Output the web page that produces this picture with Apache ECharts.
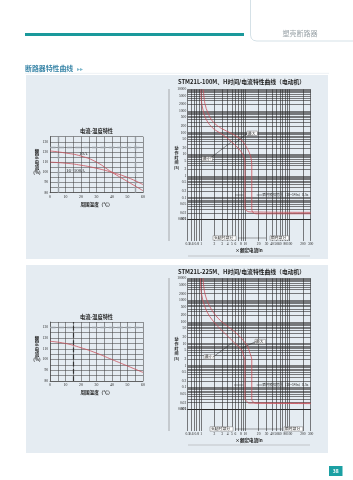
<!DOCTYPE html>
<html><head><meta charset="utf-8">
<script src="https://cdn.jsdelivr.net/npm/echarts@6/dist/echarts.min.js"></script>
<style>html,body{margin:0;padding:0;background:#fff}#c{width:353px;height:480px}</style>
</head><body><div id="c"></div>
<script>
// ---- data ----
const tempX = [0, 10, 20, 30, 40, 50, 60];
const curve10A = [121, 119, 116, 110, 100, 91, 82];
const curve16to100A = [110, 109, 107, 104, 100, 95, 88];
const curve225 = [117, 115, 111, 106, 100, 94, 88];

const tc100Min = [[1.0,10000],[1.02,3000],[1.11,1100],[1.33,383],[1.88,157],[3.17,78],[4.92,37.5],[7.6,15.5],[9.3,7.6],[9.8,3.7],[9.8,0.037],[10.6,0.025],[12.8,0.022],[300,0.021]];
const tc100Max = [[1.13,10000],[1.22,2260],[1.45,760],[1.88,310],[2.92,154],[4.92,91],[8.3,44.5],[11.1,18.4],[13.3,7.6],[14,3.2],[14,0.029],[15.2,0.02],[17.5,0.018],[300,0.018]];
const tc225Min = [[0.97,10000],[1.02,2050],[1.22,500],[1.58,174],[2.44,60],[3.79,25],[5.85,10.4],[8.3,5.1],[9.3,2.5],[9.8,1.8],[9.8,0.031],[11,0.022],[12,0.019],[300,0.019]];
const tc225Max = [[1.11,10000],[1.22,2050],[1.58,500],[2.44,146],[4.12,60],[6.95,25],[10.8,8.7],[12.8,3.6],[14,1.8],[14,0.028],[15.8,0.02],[18.2,0.019],[300,0.018]];

const leftYTicks = [80, 90, 100, 110, 120, 130];
const leftXTicks = [0, 10, 20, 30, 40, 50, 60];
const rightYTicks = [10000,5000,2000,1000,500,200,100,50,20,10,5,2,1,0.5,0.2,0.1,0.05,0.02,0.01,0.005,0.002,0.001];
const rightXTicks = [0.5,0.6,0.8,1,2,3,4,5,6,8,10,20,30,40,50,60,80,100,200,300];

// ---- helpers ----
const CJK = '"Noto Sans CJK SC", "Noto Sans", sans-serif';
const SERIF = '"Liberation Serif", "DejaVu Serif", serif';
const RED = '#c9515b';
function logGrid(min, max, nMin, nMax) {
  const out = [];
  for (let n = nMin; n <= nMax; n++) for (let k = 1; k <= 9; k++) {
    const v = Number((k * Math.pow(10, n)).toPrecision(6));
    if (v >= min * 0.999999 && v <= max * 1.000001) out.push(v);
  }
  return out;
}
const gridXVals = logGrid(0.5, 300, -1, 2);
const gridYVals = logGrid(0.001, 10000, -3, 4);
function hasTick(arr, v) { return arr.some(t => Math.abs(t - v) <= 1e-6 * Math.max(1e-9, Math.abs(t))); }

function gridSeries(idx) {
  const data = [];
  gridXVals.forEach(v => data.push({ xAxis: v, label: { show: hasTick(rightXTicks, v), formatter: String(v) } }));
  gridYVals.forEach(v => data.push({ yAxis: v, label: { show: hasTick(rightYTicks, v), formatter: String(v) } }));
  return {
    type: 'line', xAxisIndex: idx, yAxisIndex: idx, data: [], z: 1, silent: true,
    markLine: {
      silent: true, symbol: ['none', 'none'], animation: false,
      lineStyle: { color: '#2a2a2a', width: 0.6, type: 'solid' },
      label: { position: 'start', distance: 1.5, fontSize: 3.6, color: '#222', fontFamily: SERIF },
      data
    }
  };
}
function tcSeries(idx, data) {
  return { type: 'line', xAxisIndex: idx, yAxisIndex: idx, data, smooth: 0.35, showSymbol: false, z: 5,
    lineStyle: { color: RED, width: 0.8 }, animation: false, silent: true };
}
function leftX(idx) {
  return { gridIndex: idx, type: 'value', min: 0, max: 60, interval: 5,
    axisLine: { lineStyle: { color: '#444', width: 0.6 } }, axisTick: { show: false },
    splitLine: { show: true, lineStyle: { color: '#444', width: 0.55 } },
    axisLabel: { fontSize: 3.8, color: '#222', margin: 2.5, fontFamily: SERIF,
      formatter: v => hasTick(leftXTicks, v) ? String(v) : '' },
    name: '周围温度（℃）', nameLocation: 'middle', nameGap: 9,
    nameTextStyle: { fontSize: 4.6, color: '#222', fontFamily: CJK, fontWeight: 'bold' } };
}
function leftY(idx) {
  return { gridIndex: idx, type: 'value', min: 80, max: 135, interval: 5,
    axisLine: { show: true, lineStyle: { color: '#444', width: 0.6 } }, axisTick: { show: false },
    splitLine: { show: true, lineStyle: { color: '#444', width: 0.55 } },
    axisLabel: { fontSize: 3.6, color: '#222', margin: 2, fontFamily: SERIF,
      formatter: v => hasTick(leftYTicks, v) ? String(v) : '' } };
}
function rightX(idx) {
  return { gridIndex: idx, type: 'log', logBase: 10, min: 0.5, max: 300,
    axisLine: { show: false }, axisTick: { show: false }, axisLabel: { show: false }, splitLine: { show: false } };
}
function rightY(idx) {
  return { gridIndex: idx, type: 'log', logBase: 10, min: 0.001, max: 10000,
    axisLine: { show: false }, axisTick: { show: false }, axisLabel: { show: false }, splitLine: { show: false } };
}
function txt(x, y, text, size, opts) {
  return Object.assign({ type: 'text', x, y, z: 50, silent: true,
    style: Object.assign({ text, fontSize: size, fill: '#222', fontFamily: CJK, verticalAlign: 'middle' }, (opts && opts.style) || {}) },
    opts && opts.el || {});
}
function boxLabel(x, y, text) {
  return [
    { type: 'rect', z: 40, silent: true, shape: { x: x - 1, y: y - 2.2, width: text.length * 4.2 + 2, height: 4.4 },
      style: { fill: '#fff', stroke: '#555', lineWidth: 0.4 } },
    txt(x, y, text, 3.8, {})
  ];
}
function line(x1, y1, x2, y2, color, w) {
  return { type: 'line', z: 45, silent: true, shape: { x1, y1, x2, y2 }, style: { stroke: color || '#333', lineWidth: w || 0.5 } };
}

const graphics = [
  // panels
  { type: 'rect', z: -10, silent: true, shape: { x: 26, y: 75, width: 302, height: 184 }, style: { fill: '#e5ecf2' } },
  { type: 'rect', z: -10, silent: true, shape: { x: 26, y: 265, width: 302, height: 188 }, style: { fill: '#e5ecf2' } },
  // header
  { type: 'polyline', z: 5, silent: true, shape: { points: [[250.5,0],[250.5,35],[251.3,38.3],[253.5,40.3],[256.8,41],[353,41]] },
    style: { stroke: '#c3d4dc', lineWidth: 0.7, fill: null } },
  txt(300, 33.5, '塑壳断路器', 7, { style: { fill: '#9aa3a8', align: 'center' } }),
  { type: 'rect', z: 5, silent: true, shape: { x: 25, y: 33, width: 219, height: 3 }, style: { fill: '#1a999b' } },
  txt(25, 68.7, '断路器特性曲线', 6.9, { style: { fill: '#3a86a8', fontWeight: 'bold' } }),
  txt(77, 68.7, '▸▸', 5.5, { style: { fill: '#7fb8cc' } }),
  line(25, 73.3, 329, 73.3, '#e0e8ee', 0.6),
  // page number
  { type: 'rect', z: 5, silent: true, shape: { x: 329, y: 466, width: 13.5, height: 10 }, style: { fill: '#1ba0a3' } },
  txt(335.7, 471, '38', 5, { style: { fill: '#fff', align: 'center', fontWeight: 'bold' } }),

  // left chart 1
  txt(96.5, 131, '电流-温度特性', 5.2, { style: { align: 'center', fontWeight: 'bold' } }),
  txt(37, 162, '额\n定\n电\n流\n(%)', 4.4, { style: { align: 'center', lineHeight: 5.3, fontWeight: 'bold' } }),
  txt(79, 154, '10A', 5, { style: { fontFamily: SERIF } }),
  txt(66, 171, '16~100A', 5, { style: { fontFamily: SERIF } }),
  // left chart 2
  txt(96.5, 317, '电流-温度特性', 5.2, { style: { align: 'center', fontWeight: 'bold' } }),
  txt(37, 349, '额\n定\n电\n流\n(%)', 4.4, { style: { align: 'center', lineHeight: 5.3, fontWeight: 'bold' } }),

  // right chart 1
  txt(178, 81.7, 'STM21L-100M、H时间/电流特性曲线（电动机）', 5.8, { style: { fontWeight: 'bold' } }),
  txt(176.5, 158, '动\n作\n时\n间\n(S)', 4, { style: { align: 'center', lineHeight: 4.6, fontWeight: 'bold' } }),
  txt(249, 250.7, '×额定电流In', 4.6, { style: { align: 'center', fontWeight: 'bold' } }),
  line(169, 89, 169, 241, '#666', 0.5),
  line(188, 256, 310, 256, '#888', 0.4),
  line(247.3, 133.3, 235, 143.3, '#222', 0.5),
  line(210, 158.3, 231.7, 141.7, '#222', 0.5),
  ...boxLabel(248, 133.3, '最大'),
  ...boxLabel(203, 159, '最小'),
  line(235, 195, 243.5, 195, '#222', 0.5),
  line(256.7, 195, 262, 195, '#222', 0.5),
  txt(262.5, 195, '瞬时脱扣范围（10~14In）0.5s', 3.4, {}),
  ...boxLabel(214, 238, '长延时部分'),
  line(238, 238, 266, 238, '#222', 0.4),
  ...boxLabel(271, 238, '瞬时部分'),

  // right chart 2
  txt(178, 271.7, 'STM21L-225M、H时间/电流特性曲线（电动机）', 5.8, { style: { fontWeight: 'bold' } }),
  txt(176.5, 349, '动\n作\n时\n间\n(S)', 4, { style: { align: 'center', lineHeight: 4.6, fontWeight: 'bold' } }),
  txt(249, 440, '×额定电流In', 4.6, { style: { align: 'center', fontWeight: 'bold' } }),
  line(169, 278, 169, 431, '#666', 0.5),
  line(188, 445, 310, 445, '#888', 0.4),
  line(256, 341.5, 241.7, 348.3, '#222', 0.5),
  line(213, 357, 231.7, 343.3, '#222', 0.5),
  ...boxLabel(256, 341.5, '最大'),
  ...boxLabel(205, 357, '最小'),
  line(234, 385, 243.3, 385, '#222', 0.5),
  line(256.7, 385, 262, 385, '#222', 0.5),
  txt(262.5, 385, '瞬时脱扣范围（10~14In）0.5s', 3.4, {}),
  ...boxLabel(211, 429, '长延时部分'),
  line(235, 429, 282, 429, '#222', 0.4),
  ...boxLabel(285, 429, '瞬时部分')
];

const option = {
  animation: false,
  backgroundColor: '#ffffff',
  grid: [
    { left: 50, top: 136.7, width: 93, height: 56 },
    { left: 187.7, top: 89.3, width: 123, height: 151.7 },
    { left: 50, top: 322, width: 93, height: 59 },
    { left: 187.7, top: 278.3, width: 123, height: 152.7 }
  ],
  xAxis: [leftX(0), rightX(1), leftX(2), rightX(3)],
  yAxis: [leftY(0), rightY(1), leftY(2), rightY(3)],
  graphic: { elements: graphics },
  series: [
    { type: 'line', xAxisIndex: 0, yAxisIndex: 0, data: tempX.map((x, i) => [x, curve10A[i]]), smooth: true, showSymbol: false,
      lineStyle: { color: RED, width: 0.8 }, z: 5,
      markLine: { silent: true, symbol: ['none','none'], label: { show: false },
        data: [{ xAxis: 5, lineStyle: { color: '#9aa0a6', width: 1.4 } }, { xAxis: 55, lineStyle: { color: '#9aa0a6', width: 1.4 } },
               { yAxis: 125, lineStyle: { color: '#9aa0a6', width: 1.4 } }] } },
    { type: 'line', xAxisIndex: 0, yAxisIndex: 0, data: tempX.map((x, i) => [x, curve16to100A[i]]), smooth: true, showSymbol: false,
      lineStyle: { color: RED, width: 0.8 }, z: 5 },
    gridSeries(1), tcSeries(1, tc100Min), tcSeries(1, tc100Max),
    { type: 'line', xAxisIndex: 2, yAxisIndex: 2, data: tempX.map((x, i) => [x, curve225[i]]), smooth: true, showSymbol: false,
      lineStyle: { color: RED, width: 0.8 }, z: 5,
      markLine: { silent: true, symbol: ['none','none'], label: { show: false },
        data: [{ xAxis: 15, lineStyle: { color: '#333', width: 1.2 } }, { yAxis: 130, lineStyle: { color: '#9aa0a6', width: 1.4 } }] } },
    gridSeries(3), tcSeries(3, tc225Min), tcSeries(3, tc225Max)
  ]
};
const chart = echarts.init(document.getElementById('c'), null, { renderer: 'canvas' });
chart.setOption(option);
</script>
</body></html>
